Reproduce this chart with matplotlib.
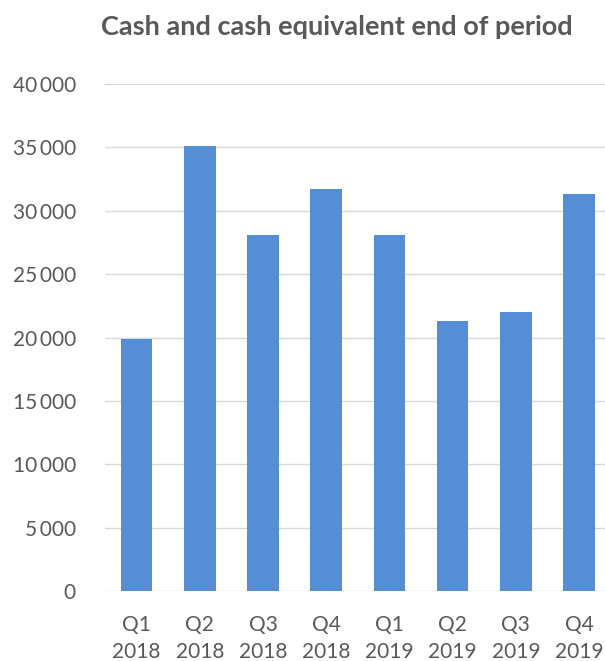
import matplotlib.pyplot as plt
from matplotlib.ticker import FuncFormatter

# data
quarters = ["Q1\n2018", "Q2\n2018", "Q3\n2018", "Q4\n2018",
            "Q1\n2019", "Q2\n2019", "Q3\n2019", "Q4\n2019"]
cash = [19900, 35100, 28100, 31700, 28100, 21300, 22000, 31300]
y_ticks = [0, 5000, 10000, 15000, 20000, 25000, 30000, 35000, 40000]

plt.rcParams['font.family'] = ['Lato', 'DejaVu Sans']
grey = '#595959'

fig = plt.figure(figsize=(6.05, 6.61), dpi=100)
ax = fig.add_axes([0.1736, 0.1059, 0.8264, 0.767])

ax.bar(range(len(quarters)), cash, width=0.5, color='#558ed5', zorder=3)

ax.set_ylim(0, 40000)
ax.set_xlim(-0.5, 7.41)
ax.set_yticks(y_ticks)
ax.yaxis.set_major_formatter(FuncFormatter(lambda v, p: f"{int(v):,}".replace(",", "\u2009")))
ax.set_xticks(range(len(quarters)))
ax.set_xticklabels(quarters, linespacing=1.45)

ax.grid(axis='y', color='#d9d9d9', lw=1.0, zorder=0)
for s in ax.spines.values():
    s.set_visible(False)
ax.tick_params(axis='both', length=0, labelsize=15, labelcolor=grey)
ax.tick_params(axis='y', pad=21)
ax.tick_params(axis='x', pad=17)

fig.text(0.557, 0.959, "Cash and cash equivalent end of period", ha='center', va='center',
         fontsize=19.5, fontweight='bold', color=grey)

fig.savefig("out.png", dpi=100)
